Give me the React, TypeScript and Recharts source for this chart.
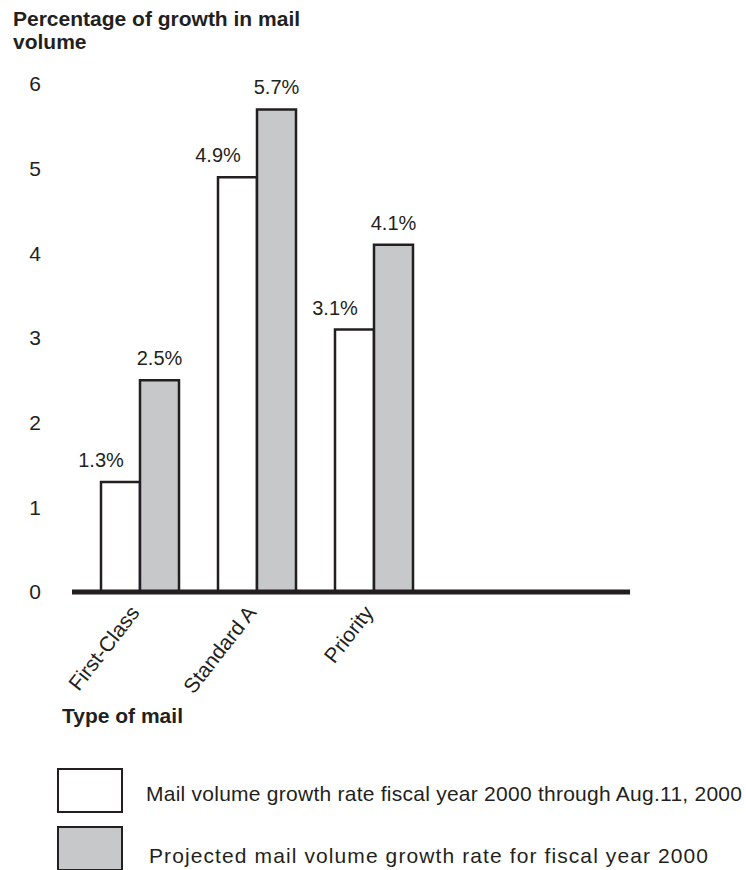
import React from "react";
import { BarChart, Bar, XAxis, YAxis, LabelList } from "recharts";

// ─── Data ────────────────────────────────────────────────────────────────────

const categories = ["First-Class", "Standard A", "Priority"];
const growthToDate = [1.3, 4.9, 3.1];
const growthProjected = [2.5, 5.7, 4.1];
const yTicks = [0, 1, 2, 3, 4, 5, 6];

const legendLabels = [
  "Mail volume growth rate fiscal year 2000 through Aug.11, 2000",
  "Projected mail volume growth rate for fiscal year 2000",
];

const data = categories.map((name, i) => ({
  name,
  toDate: growthToDate[i],
  projected: growthProjected[i],
}));

// ─── Styles ──────────────────────────────────────────────────────────────────

const FONT = "'Liberation Sans', Arial, Helvetica, sans-serif";
const INK = "#231f20";
const GRAY = "#c7c8ca";

// ─── Custom pieces ───────────────────────────────────────────────────────────

function CategoryTick({ x, y, payload }: { x?: number; y?: number; payload?: { value: string } }) {
  const ax = (x ?? 0) + 1;
  const ay = (y ?? 0) + 13;
  return (
    <text
      x={ax}
      y={ay}
      textAnchor="end"
      fontSize={21}
      fontFamily={FONT}
      fill={INK}
      transform={`rotate(-52, ${ax}, ${ay})`}
    >
      {payload?.value}
    </text>
  );
}

// white bars have their label centred on the left edge, gray ones on the bar
function makeLabel(centered: boolean) {
  return function BarValueLabel(props: any) {
    const { x, y, width, value } = props;
    const lx = centered ? Number(x) + Number(width) / 2 : Number(x);
    return (
      <text
        x={lx}
        y={Number(y) - 15}
        textAnchor="middle"
        fontSize={20}
        fontFamily={FONT}
        fill={INK}
      >
        {`${value}%`}
      </text>
    );
  };
}

function LegendBox({ top, fill }: { top: number; fill: string }) {
  return (
    <div
      style={{
        position: "absolute",
        left: 57,
        top,
        width: 66,
        height: 45,
        boxSizing: "border-box",
        border: `2.5px solid ${INK}`,
        background: fill,
      }}
    />
  );
}

// ─── App ─────────────────────────────────────────────────────────────────────

export default function App() {
  return (
    <div
      style={{
        position: "absolute",
        left: 0,
        top: 0,
        width: 746,
        height: 870,
        overflow: "hidden",
        background: "#fff",
        fontFamily: FONT,
        color: INK,
      }}
    >
      <div
        style={{
          position: "absolute",
          left: 13,
          top: 7,
          fontSize: 21,
          fontWeight: "bold",
          lineHeight: "23px",
        }}
      >
        Percentage of growth in mail
        <br />
        volume
      </div>

      <BarChart
        width={746}
        height={870}
        data={data}
        margin={{ top: 84, right: 116, left: 12, bottom: 218 }}
        barGap={0}
        style={{ position: "absolute", left: 0, top: 0 }}
      >
        <YAxis
          domain={[0, 6]}
          ticks={yTicks}
          width={60}
          axisLine={false}
          tickLine={false}
          tickSize={0}
          tickMargin={31}
          tick={{ fontSize: 21, fontFamily: FONT, fill: INK }}
        />
        <Bar
          dataKey="toDate"
          fill="#ffffff"
          stroke={INK}
          strokeWidth={2.5}
          barSize={39}
          isAnimationActive={false}
        >
          <LabelList dataKey="toDate" content={makeLabel(false)} />
        </Bar>
        <Bar
          dataKey="projected"
          fill={GRAY}
          stroke={INK}
          strokeWidth={2.5}
          barSize={39}
          isAnimationActive={false}
        >
          <LabelList dataKey="projected" content={makeLabel(true)} />
        </Bar>
        <XAxis
          dataKey="name"
          height={60}
          padding={{ left: 9, right: 198 }}
          axisLine={{ stroke: INK, strokeWidth: 5 }}
          tickLine={false}
          interval={0}
          tick={<CategoryTick />}
        />
      </BarChart>

      <div
        style={{
          position: "absolute",
          left: 62,
          top: 704,
          fontSize: 21,
          fontWeight: "bold",
          whiteSpace: "nowrap",
        }}
      >
        Type of mail
      </div>

      <LegendBox top={768} fill="#ffffff" />
      <LegendBox top={826} fill={GRAY} />
      <div
        style={{
          position: "absolute",
          left: 146,
          top: 782,
          fontSize: 21,
          letterSpacing: 0.25,
          whiteSpace: "nowrap",
        }}
      >
        {legendLabels[0]}
      </div>
      <div
        style={{
          position: "absolute",
          left: 149,
          top: 844,
          fontSize: 21,
          letterSpacing: 1.1,
          whiteSpace: "nowrap",
        }}
      >
        {legendLabels[1]}
      </div>
    </div>
  );
}
